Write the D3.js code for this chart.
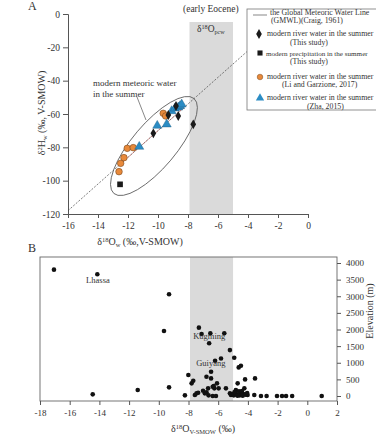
<!DOCTYPE html>
<html><head><meta charset="utf-8">
<script src="https://cdn.jsdelivr.net/npm/d3@7"></script>
<style>
body{margin:0;background:#fff;}
svg text{font-family:"Liberation Serif","Times New Roman",serif;fill:#333;}
</style></head>
<body><svg id="c" width="376" height="439"></svg>
<script>
// ---------- Panel A data ----------
const riverThisStudy = [[-10.31,-71.6],[-9.31,-60.6],[-8.65,-61.2],[-7.65,-66.2],[-8.8,-55.2]];
const precipThisStudy = [[-12.53,-102.2]];
const riverLiGarzione = [[-12.6,-94.6],[-12.49,-89.6],[-12.27,-86.2],[-12.05,-80.6],[-11.65,-80.2],[-9.65,-59.6],[-9.49,-61.2]];
const riverZha = [[-11.25,-79.6],[-10.05,-67],[-9.42,-66.2],[-9.09,-58.2],[-8.87,-56.6],[-8.65,-56],[-8.53,-55.2],[-8.42,-54.2]];
const aXTicks = [-16,-14,-12,-10,-8,-6,-4,-2,0];
const aYTicks = [-120,-100,-80,-60,-40,-20,0];
const pcwBand = [-7.9,-5.0];
const gmwlRange = [-16,-4.07];
// ---------- Panel B data ----------
const bO18 = [-17.06,-14.14,-9.31,-9.65,-8.01,-14.45,-11.42,-9.31,-8.24,-7.79,-7.68,-7.57,-7.46,-7.35,-7.30,-7.12,-7.02,-6.90,-6.79,-6.79,-6.68,-6.61,-6.53,-6.48,-6.48,-6.37,-6.37,-6.26,-6.21,-6.15,-6.08,-5.97,-5.81,-5.59,-5.48,-5.21,-5.21,-5.14,-4.92,-4.81,-4.69,-4.62,-4.47,-4.47,-4.24,-4.19,-4.02,-3.57,-3.52,-3.12,-2.74,-2.04,-1.70,-1.43,-1.02,0.97,-5.05,-4.95,-4.85,-4.75,-4.6,-4.55,-4.4,-4.3,-4.35,-4.15,-4.05,-4.9,-4.7,-6.65,-6.3];
const bElev = [3800,3660,3060,1955,630,50,180,260,20,380,460,30,80,100,2055,1865,160,80,580,110,230,1585,1885,530,730,0,280,230,1060,0,380,230,1130,1885,230,1380,80,30,1150,180,380,860,910,80,230,500,30,30,530,0,0,0,0,0,0,0,60,20,100,40,140,20,150,60,10,40,90,120,10,20,300];
const bXTicks = [-18,-16,-14,-12,-10,-8,-6,-4,-2,0,2];
const bYTicks = [0,500,1000,1500,2000,2500,3000,3500,4000];
const bLabels = [{t:"Lhassa",x:-14.1,y:3400},{t:"Kugming",x:-6.6,y:1710},{t:"Guiyang",x:-6.5,y:900}];

const svg = d3.select("#c");
const ink = "#333";

// ================= Panel A =================
const xA = d3.scaleLinear().domain([-16,0]).range([68,308]);
const yA = d3.scaleLinear().domain([-120,0]).range([214,14]);

svg.append("rect").attr("x",xA(pcwBand[0])).attr("width",xA(pcwBand[1])-xA(pcwBand[0]))
  .attr("y",22).attr("height",yA(-120)-22).attr("fill","#dadada");

const axA = svg.append("g").attr("transform","translate(0,214)")
  .call(d3.axisBottom(xA).tickValues(aXTicks).tickSize(4).tickPadding(4).tickFormat(d=>d));
const ayA = svg.append("g").attr("transform","translate(68,0)")
  .call(d3.axisLeft(yA).tickValues(aYTicks).tickSize(5).tickPadding(3).tickFormat(d=>d));
[axA,ayA].forEach(g=>{
  g.selectAll("path,line").attr("stroke","#555");
  g.selectAll("text").attr("font-size","9.5px").attr("fill",ink).attr("font-family","Liberation Serif");
});

// GMWL: dD = 8 d18O + 10
const gm = d=>8*d+10;
svg.append("line").attr("x1",xA(gmwlRange[0])).attr("y1",yA(gm(gmwlRange[0])))
  .attr("x2",xA(gmwlRange[1])).attr("y2",yA(gm(gmwlRange[1])))
  .attr("stroke","#444").attr("stroke-width",0.7).attr("stroke-dasharray","2,1.5");
svg.append("line").attr("x1",xA(-12.4)).attr("y1",yA(gm(-12.4)))
  .attr("x2",xA(-8.3)).attr("y2",yA(gm(-8.3)))
  .attr("stroke","#c0504d").attr("stroke-width",0.7).attr("stroke-dasharray","2,1.5");

// ellipse annotation
const eC = [xA(-10.27), yA(-79.2)], eEnd=[xA(-7.6), yA(-50.7)];
const eRx = Math.hypot(eEnd[0]-eC[0], eEnd[1]-eC[1]);
const eAng = Math.atan2(eEnd[1]-eC[1], eEnd[0]-eC[0])*180/Math.PI;
svg.append("ellipse").attr("cx",0).attr("cy",0).attr("rx",eRx).attr("ry",22)
  .attr("transform",`translate(${eC[0]},${eC[1]}) rotate(${eAng})`)
  .attr("fill","none").attr("stroke","#555").attr("stroke-width",0.8);
svg.append("line").attr("x1",137).attr("y1",97).attr("x2",146).attr("y2",120)
  .attr("stroke","#555").attr("stroke-width",0.7);
svg.append("text").attr("x",93).attr("y",86).attr("font-size","9px").text("modern meteoric water");
svg.append("text").attr("x",93).attr("y",97).attr("font-size","9px").text("in the summer");

// markers
const dia = d3.symbol().type(d3.symbolDiamond).size(28);
const sq = d3.symbol().type(d3.symbolSquare).size(32);
const tri = d3.symbol().type(d3.symbolTriangle).size(36);
const orange="#e8893a", blue="#2b8cc4", blk="#1a1a1a";
svg.append("g").selectAll("circle").data(riverLiGarzione).join("circle")
  .attr("cx",d=>xA(d[0])).attr("cy",d=>yA(d[1])).attr("r",3.3)
  .attr("fill",orange).attr("stroke","#7a4a20").attr("stroke-width",0.6);
svg.append("g").selectAll("path").data(riverZha).join("path")
  .attr("d",tri).attr("transform",d=>`translate(${xA(d[0])},${yA(d[1])})`)
  .attr("fill",blue).attr("stroke","#1b5a80").attr("stroke-width",0.4);
svg.append("g").selectAll("path").data(riverThisStudy).join("path")
  .attr("d",dia).attr("transform",d=>`translate(${xA(d[0])},${yA(d[1])})`).attr("fill",blk);
svg.append("g").selectAll("path").data(precipThisStudy).join("path")
  .attr("d",sq).attr("transform",d=>`translate(${xA(d[0])},${yA(d[1])})`).attr("fill",blk);

// titles A
function rich(sel, parts){
  parts.forEach(p=>{
    const t = sel.append("tspan").text(p[0]);
    if(p[1]==="sup"){t.attr("font-size","0.65em").attr("dy","-0.45em");}
    if(p[1]==="sub"){t.attr("font-size","0.65em").attr("dy","0.3em");}
    if(p[1]==="back-sup"){t.attr("dy","0.29em");}
    if(p[1]==="back-sub"){t.attr("dy","-0.2em");}
  });
}
rich(svg.append("text").attr("x",140).attr("y",245).attr("text-anchor","middle").attr("font-size","10px"),
  [["δ"],["18","sup"],["O","back-sup"],["w","sub"],[" (‰,V-SMOW)","back-sub"]]);
rich(svg.append("text").attr("transform","translate(45,113) rotate(-90)").attr("text-anchor","middle").attr("font-size","10px"),
  [["δ"],["2","sup"],["H","back-sup"],["w","sub"],[" (‰, V-SMOW)","back-sub"]]);
svg.append("text").attr("x",28).attr("y",10).attr("font-size","12px").text("A");
svg.append("text").attr("x",183).attr("y",12).attr("font-size","9.5px").text("(early Eocene)");
rich(svg.append("text").attr("x",197).attr("y",32).attr("font-size","9.5px"),
  [["δ"],["18","sup"],["O","back-sup"],["pcw","sub"]]);

// legend
svg.append("rect").attr("x",247).attr("y",9).attr("width",140).attr("height",101)
  .attr("fill","#fff").attr("stroke","#777").attr("stroke-width",0.8);
svg.append("line").attr("x1",253).attr("x2",267).attr("y1",15).attr("y2",15).attr("stroke","#555").attr("stroke-width",0.7);
const lg = [
  [270,15,"the Global Meteoric Water Line",7.8],[271,23,"(GMWL)(Craig, 1961)",7.8],
  [267,36,"modern river water in the summer",7.8],[290,45,"(This study)",7.8],
  [266,56,"modern precipitation in the summer",7.1],[290,64,"(This study)",7.8],
  [267,79,"modern river water in the summer",7.8],[282,87,"(Li and Garzione, 2017)",7.8],
  [267,100,"modern river water in the summer",7.8],[307,109,"(Zha, 2015)",7.8]];
svg.append("g").selectAll("text").data(lg).join("text")
  .attr("x",d=>d[0]).attr("y",d=>d[1]).attr("font-size",d=>d[3]+"px").text(d=>d[2]);
svg.append("path").attr("d",dia).attr("transform","translate(259,34)").attr("fill",blk);
svg.append("path").attr("d",d3.symbol().type(d3.symbolSquare).size(26)).attr("transform","translate(260,53)").attr("fill",blk);
svg.append("circle").attr("cx",260).attr("cy",77).attr("r",2.8).attr("fill",orange).attr("stroke","#7a4a20").attr("stroke-width",0.5);
svg.append("path").attr("d",d3.symbol().type(d3.symbolTriangle).size(30)).attr("transform","translate(260,98)").attr("fill",blue);

// ================= Panel B =================
const xB = d3.scaleLinear().domain([-18,2]).range([40,337]);
const yB = d3.scaleLinear().domain([0,4000]).range([396,263]);
const bTop=257, bBot=401;
svg.append("rect").attr("x",xB(pcwBand[0])).attr("width",xB(pcwBand[1])-xB(pcwBand[0]))
  .attr("y",bTop).attr("height",bBot-bTop).attr("fill","#dadada");
svg.append("rect").attr("x",40).attr("y",bTop).attr("width",297).attr("height",bBot-bTop)
  .attr("fill","none").attr("stroke","#666").attr("stroke-width",0.9);
const axB = svg.append("g").attr("transform",`translate(0,${bBot})`)
  .call(d3.axisBottom(xB).tickValues(bXTicks).tickSize(4).tickPadding(5).tickFormat(d=>d));
const ayB = svg.append("g").attr("transform","translate(337,0)")
  .call(d3.axisRight(yB).tickValues(bYTicks).tickSize(4).tickPadding(5).tickFormat(d=>d));
[axB,ayB].forEach(g=>{
  g.select(".domain").remove();
  g.selectAll("line").attr("stroke","#555");
  g.selectAll("text").attr("font-size","9px").attr("fill",ink).attr("font-family","Liberation Serif");
});
svg.append("g").selectAll("circle").data(bO18.map((v,i)=>[v,bElev[i]])).join("circle")
  .attr("cx",d=>xB(d[0])).attr("cy",d=>yB(d[1])).attr("r",2.3).attr("fill","#111");
svg.append("g").selectAll("text").data(bLabels).join("text")
  .attr("x",d=>xB(d.x)).attr("y",d=>yB(d.y)).attr("text-anchor","middle")
  .attr("font-size","8.5px").attr("fill","#666").text(d=>d.t);
svg.append("text").attr("x",28).attr("y",252).attr("font-size","12px").text("B");
rich(svg.append("text").attr("x",203).attr("y",432).attr("text-anchor","middle").attr("font-size","10px"),
  [["δ"],["18","sup"],["O","back-sup"],["V-SMOW","sub"],[" (‰)","back-sub"]]);
svg.append("text").attr("transform","translate(373,311) rotate(-90)").attr("text-anchor","middle")
  .attr("font-size","10px").text("Elevation (m)");
</script></body></html>
